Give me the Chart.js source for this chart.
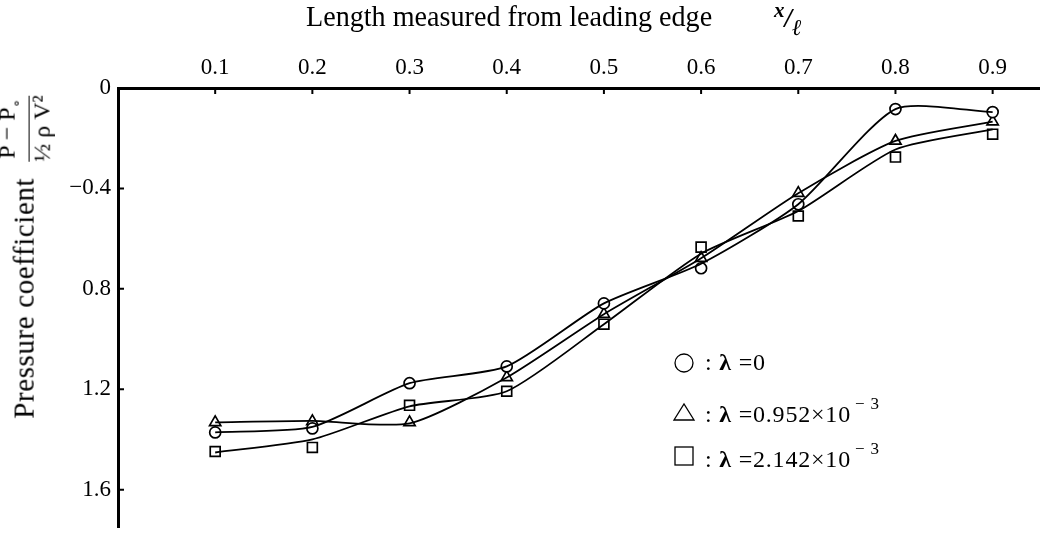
<!DOCTYPE html>
<html>
<head>
<meta charset="utf-8">
<script src="https://cdn.jsdelivr.net/npm/chart.js@4"></script>
<style>
  html, body { margin:0; padding:0; background:#fff; }
  #wrap { position:relative; width:1048px; height:536px; font-family:'Liberation Serif', serif; color:#000; }
  #plot { position:absolute; left:0; top:0; }
  .txt { position:absolute; white-space:nowrap; }
  #title { left:306px; top:0px; font-size:29px; transform:scaleX(0.97); transform-origin:left; }
  #xl { left:774px; top:-2px; font-size:27px; font-style:italic; font-weight:bold; }
  #xl sub { font-size:23px; vertical-align:-8px; }
  #xl sup { font-size:21px; vertical-align:10px; }
  #ylab { left:24px; top:257px; transform:translate(-50%,-50%) rotate(-90deg); font-size:29px; display:flex; align-items:center; letter-spacing:0.6px; }
  .frac { display:inline-flex; flex-direction:column; align-items:center; margin-left:16px; font-size:24px; line-height:24px; letter-spacing:0; }
  .frac .num { border-bottom:1.5px solid #000; padding:0 3px; }
  .legend-row { position:absolute; left:672px; font-size:24px; display:flex; align-items:center; letter-spacing:0.8px; }
  .legend-row svg { margin-right:9px; }
  .legend-row sup { font-size:17px; vertical-align:13px; margin-left:4px; }
</style>
</head>
<body>
<div id="wrap">
  <canvas id="plot" width="1048" height="536"></canvas>
  <div class="txt" id="title">Length measured from leading edge</div>
  <div class="txt" id="xl"><sup>x</sup>/<sub>ℓ</sub></div>
  <div class="txt" id="ylab">Pressure coefficient
    <span class="frac"><span class="num">P − P<sub style="font-size:14px">∘</sub></span><span>½ ρ V²</span></span>
  </div>
  <div class="legend-row" style="top:349px"><svg width="24" height="24"><circle cx="12" cy="12" r="9" fill="none" stroke="#000" stroke-width="1.3"/></svg><span>: <b>λ</b> =0</span></div>
  <div class="legend-row" style="top:394px"><svg width="24" height="24"><polygon points="2,21 22,21 12,5" fill="none" stroke="#000" stroke-width="1.3"/></svg><span>: <b>λ</b> =0.952×10<sup>− 3</sup></span></div>
  <div class="legend-row" style="top:439px"><svg width="24" height="24"><rect x="3" y="3" width="18" height="18" fill="none" stroke="#000" stroke-width="1.3"/></svg><span>: <b>λ</b> =2.142×10<sup>− 3</sup></span></div>
</div>
<script>
// positions along the chord, x/l
const stations = [0.1, 0.2, 0.3, 0.4, 0.5, 0.6, 0.7, 0.8, 0.9];
const xTickLabels = ['0.1', '0.2', '0.3', '0.4', '0.5', '0.6', '0.7', '0.8', '0.9'];
const yTickValues = [0, 0.4, 0.8, 1.2, 1.6];
const yTickLabels = ['0', '−0.4', '0.8', '1.2', '1.6'];

// measured points
const circlePts   = [1.372, 1.356, 1.176, 1.109, 0.858, 0.718, 0.463, 0.084, 0.096];
const trianglePts = [1.332, 1.328, 1.332, 1.153, 0.901, 0.678, 0.419, 0.211, 0.134];
const squarePts   = [1.448, 1.432, 1.264, 1.208, 0.941, 0.634, 0.510, 0.275, 0.184];

// faired curves through the points
const circleCurve   = [1.372, 1.350, 1.176, 1.109, 0.858, 0.700, 0.463, 0.084, 0.096];
const triangleCurve = [1.332, 1.326, 1.336, 1.153, 0.901, 0.678, 0.419, 0.211, 0.134];
const squareCurve   = [1.452, 1.400, 1.268, 1.208, 0.941, 0.660, 0.490, 0.245, 0.165];

const pts = arr => arr.map((v, i) => ({x: stations[i], y: v}));

const curve = data => ({
  data: pts(data), borderColor:'#000', borderWidth:1.8, pointRadius:0,
  tension:0.22, fill:false, showLine:true
});
const marks = (data, style, r) => ({
  data: pts(data), showLine:false, pointStyle:style, pointRadius:r,
  pointBackgroundColor:'#fff', pointBorderColor:'#000', pointBorderWidth:1.7
});

// tick marks drawn inward from the axes
const innerTicks = {
  id: 'innerTicks',
  afterDraw(chart) {
    const {ctx, scales:{x, y}, chartArea:a} = chart;
    ctx.save();
    ctx.strokeStyle = '#000';
    ctx.lineWidth = 2;
    ctx.beginPath();
    stations.forEach(v => {
      const px = x.getPixelForValue(v);
      ctx.moveTo(px, a.top); ctx.lineTo(px, a.top + 6);
    });
    yTickValues.slice(1).forEach(v => {
      const py = y.getPixelForValue(v);
      ctx.moveTo(a.left, py); ctx.lineTo(a.left + 6, py);
    });
    ctx.stroke();
    ctx.restore();
  }
};

new Chart(document.getElementById('plot'), {
  type: 'scatter',
  data: { datasets: [
    curve(circleCurve), curve(triangleCurve), curve(squareCurve),
    marks(circlePts, 'circle', 5.5), marks(trianglePts, 'triangle', 6.5), marks(squarePts, 'rect', 7)
  ]},
  options: {
    responsive:false, animation:false,
    layout: {padding:{left:0, top:0, right:0, bottom:0}},
    plugins: {legend:{display:false}, tooltip:{enabled:false}},
    scales: {
      x: {
        type:'linear', position:'top', min:0, max:0.948,
        afterBuildTicks: s => { s.ticks = stations.map(v => ({value:v})); },
        afterFit: s => { s.height = 88; s.paddingLeft = 0; s.paddingRight = 0; },
        grid: {display:false, drawTicks:false},
        border: {display:true, color:'#000', width:3},
        ticks: {color:'#000', padding:6, font:{family:'Liberation Serif', size:23},
                callback: (v, i) => xTickLabels[i]}
      },
      y: {
        type:'linear', reverse:true, min:0, max:1.75,
        afterBuildTicks: s => { s.ticks = yTickValues.map(v => ({value:v})); },
        afterFit: s => { s.width = 118; s.paddingTop = 0; s.paddingBottom = 0; },
        grid: {display:false, drawTicks:false},
        border: {display:true, color:'#000', width:3},
        ticks: {color:'#000', padding:7, font:{family:'Liberation Serif', size:23},
                callback: (v, i) => yTickLabels[i]}
      }
    }
  },
  plugins: [innerTicks]
});
</script>
</body>
</html>
